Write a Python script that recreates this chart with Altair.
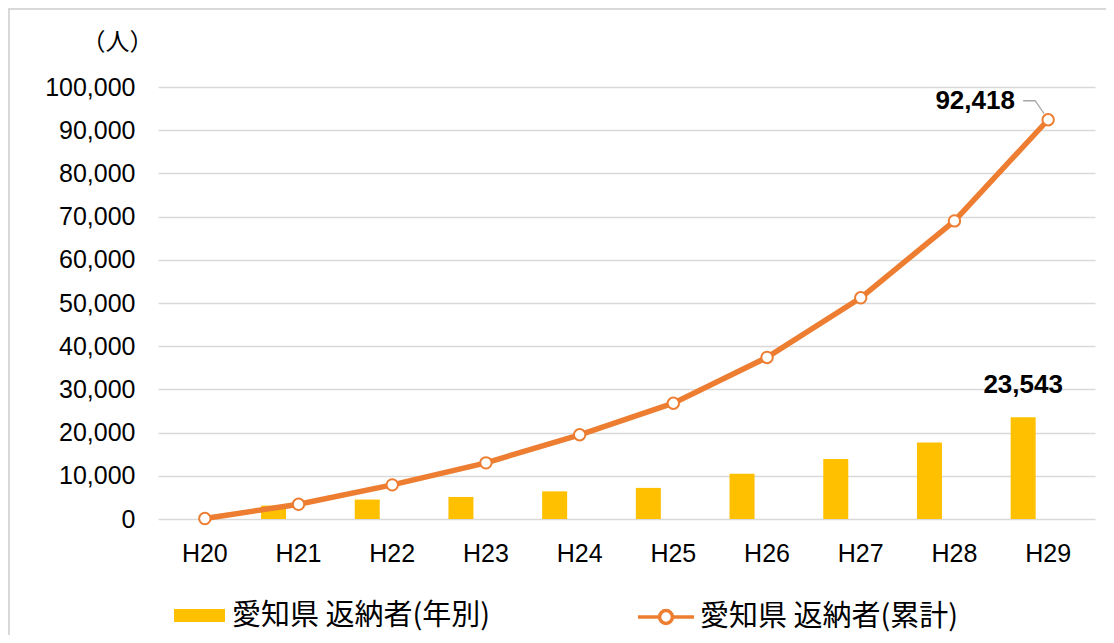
import altair as alt
import pandas as pd

years = ["H20", "H21", "H22", "H23", "H24", "H25", "H26", "H27", "H28", "H29"]
annual = [0, 3100, 4500, 5100, 6400, 7200, 10500, 13900, 17700, 23543]
cumulative = [100, 3400, 7900, 13000, 19500, 26800, 37400, 51200, 69000, 92418]
bar_name = "愛知県 返納者(年別)"
line_name = "愛知県 返納者(累計)"
y_ticks = list(range(0, 100001, 10000))
unit_title = "（人）"

BAR_COLOR = "#FFC000"
LINE_COLOR = "#ED7D31"
GRID = "#D9D9D9"
LEADER = "#A6A6A6"
NUM_FONT = "Liberation Sans"
JP_FONT = "Noto Sans CJK JP"

df = pd.DataFrame({
    "year": years,
    "annual": annual,
    "cumulative": cumulative,
    "bar_series": [bar_name] * len(years),
    "line_series": [line_name] * len(years),
})

x_enc = alt.X(
    "year:N", sort=years, title=None,
    scale=alt.Scale(paddingInner=0, paddingOuter=0),
    axis=alt.Axis(labelAngle=0, labelFontSize=25, labelFont=NUM_FONT, labelColor="black",
                  ticks=False, domain=False, labelPadding=22, grid=False),
)
y_scale = alt.Scale(domain=[0, 100000], nice=False)

base = alt.Chart(df)

bars = base.mark_bar(size=25, xOffset=-25).encode(
    x=x_enc,
    y=alt.Y("annual:Q", scale=y_scale, title=unit_title,
            axis=alt.Axis(values=y_ticks, labelExpr="format(datum.value, ',')",
                          grid=True, gridColor=GRID, gridWidth=1.5,
                          domain=False, ticks=False, labelFontSize=25, labelFont=NUM_FONT,
                          labelColor="black", labelPadding=23,
                          titleAngle=0, titleAlign="center", titleBaseline="middle",
                          titleX=-41, titleY=-45, titleFontSize=24, titleFont=JP_FONT,
                          titleFontWeight="normal", titleColor="black")),
    color=alt.Color("bar_series:N", scale=alt.Scale(domain=[bar_name], range=[BAR_COLOR]),
                    legend=alt.Legend(orient="none", legendX=16, legendY=503, title=None,
                                      symbolType="M-1,-0.255H1V0.255H-1Z", symbolSize=2601,
                                      symbolStrokeWidth=0, labelFontSize=29, labelFont=JP_FONT,
                                      labelColor="black", labelOffset=7, padding=0, labelLimit=0)),
)

line = base.mark_line(strokeWidth=5.5).encode(
    x=alt.X("year:N", sort=years),
    y=alt.Y("cumulative:Q", scale=y_scale),
    stroke=alt.Stroke("line_series:N", scale=alt.Scale(domain=[line_name], range=[LINE_COLOR]),
                      legend=alt.Legend(orient="none", legendX=478, legendY=500, title=None,
                                        symbolType="M-1,0H-0.23M0.23,0H1M-0.23,0A0.23,0.23,0,1,1,0.23,0A0.23,0.23,0,1,1,-0.23,0",
                                        symbolSize=3136, symbolStrokeWidth=3.5,
                                        symbolFillColor="white", labelFontSize=29, labelFont=JP_FONT,
                                        labelColor="black", labelOffset=4, padding=0, labelLimit=0)),
)

points = base.mark_point(filled=True, fill="white", stroke=LINE_COLOR, strokeWidth=2,
                         size=130, opacity=1, shape="circle").encode(
    x=alt.X("year:N", sort=years),
    y=alt.Y("cumulative:Q", scale=y_scale),
)

last = base.transform_filter(alt.datum.year == years[-1])

bar_label = last.mark_text(fontSize=26, fontWeight="bold", font=NUM_FONT, color="black",
                           dx=-25, dy=-19, baseline="bottom", align="center").encode(
    x=alt.X("year:N", sort=years),
    y=alt.Y("annual:Q", scale=y_scale),
    text=alt.Text("annual:Q", format=","),
)

line_label = last.mark_text(fontSize=26, fontWeight="bold", font=NUM_FONT, color="black",
                            dx=-73, dy=-19, baseline="middle", align="center").encode(
    x=alt.X("year:N", sort=years),
    y=alt.Y("cumulative:Q", scale=y_scale),
    text=alt.Text("cumulative:Q", format=","),
)

leader = last.mark_point(shape="M-25,-19L-13,-19L-4,-6", size=4, filled=False,
                         stroke=LEADER, strokeWidth=1.3, opacity=1).encode(
    x=alt.X("year:N", sort=years),
    y=alt.Y("cumulative:Q", scale=y_scale),
)

frame = base.mark_rect(fillOpacity=0, stroke=GRID, strokeWidth=2).encode(
    x=alt.value(-149), x2=alt.value(980), y=alt.value(-78), y2=alt.value(600),
)

chart = alt.layer(frame, bars, line, points, leader, bar_label, line_label).resolve_scale(
    color="independent", stroke="independent"
).properties(
    width=937, height=432,
    autosize=alt.AutoSizeParams(type="none"),
    padding={"left": 150, "top": 79, "right": 11, "bottom": 116},
    background="white",
).configure_view(stroke=None)

chart.save("out.html", embed_options={"renderer": "svg", "actions": False})
